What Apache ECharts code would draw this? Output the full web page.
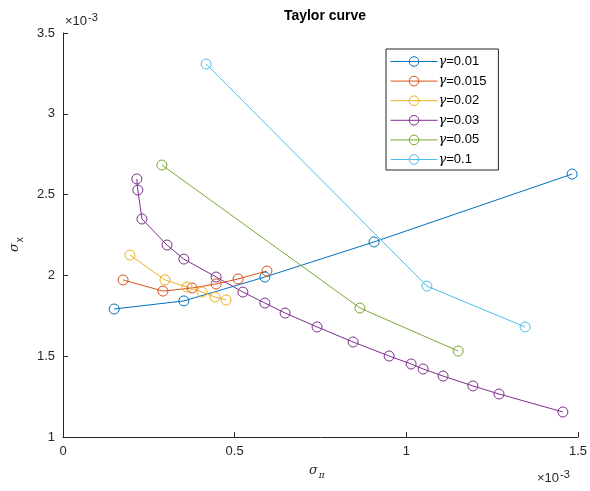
<!DOCTYPE html>
<html>
<head>
<meta charset="utf-8">
<script src="https://cdn.jsdelivr.net/npm/echarts@6/dist/echarts.min.js"></script>
<style>
  html, body { margin: 0; padding: 0; background: #fff; }
  #chart { width: 590px; height: 491px; }
</style>
</head>
<body>
<div id="chart"></div>
<script>
// values are in units of 1e-3
var gammas = ['0.01', '0.015', '0.02', '0.03', '0.05', '0.1'];
var colors = ['#0072BD', '#D95319', '#EDB120', '#7E2F8E', '#77AC30', '#4DBEEE'];

var x001 = [0.149, 0.352, 0.588, 0.906, 1.483];
var y001 = [1.792, 1.842, 1.990, 2.207, 2.627];

var x0015 = [0.175, 0.291, 0.376, 0.446, 0.510, 0.594];
var y0015 = [1.972, 1.903, 1.922, 1.947, 1.978, 2.027];

var x002 = [0.195, 0.297, 0.361, 0.405, 0.443, 0.475];
var y002 = [2.126, 1.972, 1.928, 1.897, 1.866, 1.848];

var x003 = [0.215, 0.218, 0.230, 0.303, 0.352, 0.446, 0.524, 0.588, 0.647, 0.740,
            0.845, 0.950, 1.014, 1.049, 1.107, 1.194, 1.270, 1.456];
var y003 = [2.597, 2.528, 2.349, 2.188, 2.101, 1.990, 1.897, 1.829, 1.767, 1.681,
            1.588, 1.501, 1.452, 1.421, 1.377, 1.316, 1.266, 1.155];

var x005 = [0.288, 0.865, 1.151];
var y005 = [2.683, 1.798, 1.532];

var x01 = [0.417, 1.060, 1.346];
var y01 = [3.308, 1.934, 1.681];

var xs = [x001, x0015, x002, x003, x005, x01];
var ys = [y001, y0015, y002, y003, y005, y01];

var FONT = '"Liberation Sans", Arial, Helvetica, sans-serif';
var AX = '#262626';

var series = gammas.map(function (g, i) {
  return {
    name: g,
    type: 'line',
    data: xs[i].map(function (v, k) { return [v, ys[i][k]]; }),
    symbol: 'circle',
    symbolSize: 10,
    showSymbol: true,
    lineStyle: { width: 1, color: colors[i] },
    itemStyle: { color: 'rgba(0,0,0,0)', borderColor: colors[i], borderWidth: 1 },
    animation: false,
    z: 2
  };
});

var chart = echarts.init(document.getElementById('chart'));
chart.setOption({
  backgroundColor: '#fff',
  animation: false,
  title: {
    text: 'Taylor curve',
    left: 320, top: 4, textAlign: 'center',
    textStyle: { fontFamily: FONT, fontSize: 14, fontWeight: 'bold', color: '#000' }
  },
  legend: {
    orient: 'vertical',
    left: 386, top: 49,
    padding: [6, 12, 4, 4],
    itemWidth: 47, itemHeight: 12, itemGap: 6.6,
    borderColor: '#262626', borderWidth: 1,
    backgroundColor: '#fff',
    itemStyle: { borderWidth: 1 },
    lineStyle: { width: 1 },
    data: gammas,
    formatter: function (n) { return '{g|γ}=' + n; },
    textStyle: {
      fontFamily: FONT, fontSize: 13, color: '#000', padding: [0, 0, 0, -4],
      rich: { g: { fontFamily: '"DejaVu Serif", serif', fontStyle: 'italic', fontSize: 13, color: '#000' } }
    }
  },
  grid: { left: 63, top: 33, right: 12, bottom: 54 },
  xAxis: {
    type: 'value', min: 0, max: 1.5, interval: 0.5,
    axisLine: { show: true, lineStyle: { color: AX, width: 1 } },
    axisTick: { show: true, inside: true, length: 5, lineStyle: { color: AX } },
    axisLabel: { fontFamily: FONT, fontSize: 13, color: AX, margin: 8 },
    splitLine: { show: false }
  },
  yAxis: {
    type: 'value', min: 1, max: 3.5, interval: 0.5,
    axisLine: { show: true, lineStyle: { color: AX, width: 1 } },
    axisTick: { show: true, inside: true, length: 5, lineStyle: { color: AX } },
    axisLabel: { fontFamily: FONT, fontSize: 13, color: AX, margin: 8 },
    splitLine: { show: false }
  },
  graphic: [
    {
      type: 'text', left: 65, top: 12,
      style: {
        text: '×10{s|-3}', fontFamily: FONT, fontSize: 13, fill: AX,
        rich: { s: { fontFamily: FONT, fontSize: 11, fill: AX, padding: [0, 0, 8, 1] } }
      }
    },
    {
      type: 'text', left: 537, top: 469,
      style: {
        text: '×10{s|-3}', fontFamily: FONT, fontSize: 13, fill: AX,
        rich: { s: { fontFamily: FONT, fontSize: 11, fill: AX, padding: [0, 0, 8, 1] } }
      }
    },
    {
      type: 'text', left: 309, top: 464,
      style: {
        text: '{a|σ}{b|π}', fill: AX,
        rich: {
          a: { fontFamily: '"DejaVu Serif", serif', fontStyle: 'italic', fontSize: 13, fill: AX },
          b: { fontFamily: '"DejaVu Serif", serif', fontStyle: 'italic', fontSize: 9, fill: AX, padding: [10, 0, 0, 1] }
        }
      }
    },
    {
      type: 'text', x: 5, y: 252, rotation: Math.PI / 2,
      style: {
        text: '{a|σ}{b|x}', fill: AX,
        rich: {
          a: { fontFamily: '"DejaVu Serif", serif', fontStyle: 'italic', fontSize: 13, fill: AX },
          b: { fontFamily: FONT, fontSize: 10, fill: AX, padding: [10, 0, 0, 1] }
        }
      }
    }
  ],
  series: series
});
</script>
</body>
</html>
